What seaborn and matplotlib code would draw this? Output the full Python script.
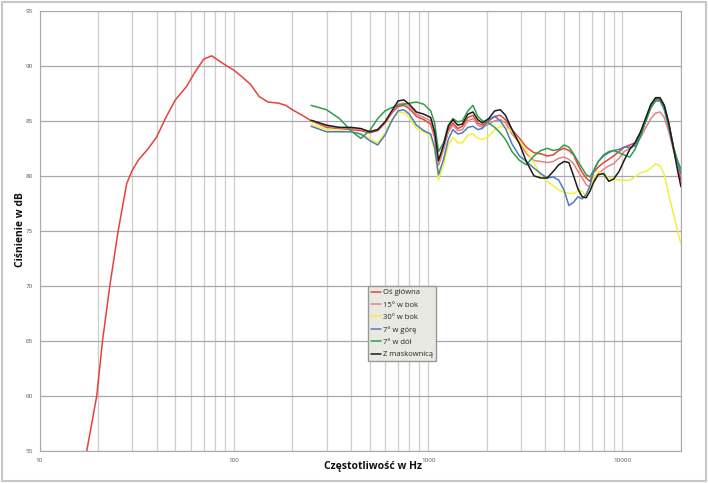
import numpy as np
import pandas as pd
import matplotlib
matplotlib.use("Agg")
import matplotlib.pyplot as plt
from matplotlib.ticker import LogLocator, NullFormatter, FixedLocator
from matplotlib.patches import Rectangle
import seaborn as sns

# ---------------- data ----------------
series_names = ["Oś główna", "15° w bok", "30° w bok", "7° w górę", "7° w dół", "Z maskownicą"]
series_colors = ["#e8413a", "#e08585", "#f2f03c", "#4a7ebb", "#2f9e48", "#1c1c1c"]

freq_low = [17.5, 19.7, 21.1, 23.0, 25.4, 28.1, 30, 32.5, 36, 40, 45, 50, 57, 63, 70, 77, 88,
            100, 110, 122, 135, 150, 170, 185, 200, 225]
spl_low = [55.0, 60.0, 65.0, 70.0, 75.0, 79.3, 80.5, 81.5, 82.4, 83.5, 85.4, 86.9, 88.1, 89.4,
           90.6, 90.9, 90.2, 89.6, 89.0, 88.3, 87.2, 86.7, 86.6, 86.4, 86.0, 85.5]

freq = [250, 300, 350, 400, 450, 500, 550, 600, 650, 700, 750, 800, 870, 950, 1030, 1080, 1130,
        1200, 1270, 1340, 1420, 1500, 1600, 1700, 1800, 1900, 2050, 2200, 2350, 2500, 2700, 2950,
        3200, 3500, 3800, 4100, 4400, 4700, 5000, 5300, 5600, 5900, 6200, 6500, 6800, 7100, 7500,
        8000, 8500, 9000, 9600, 10200, 10900, 11600, 12400, 13200, 14000, 14800, 15600, 16400,
        17300, 18300, 19200, 20000]

spl_main = [85.0, 84.4, 84.3, 84.2, 84.1, 83.9, 84.1, 84.8, 85.7, 86.3, 86.4, 86.1, 85.4, 85.1,
            84.7, 83.5, 81.0, 82.5, 84.2, 84.8, 84.3, 84.5, 85.3, 85.5, 84.8, 84.6, 85.0, 85.4,
            85.5, 85.1, 84.2, 83.4, 82.6, 82.1, 82.0, 81.8, 81.9, 82.3, 82.5, 82.3, 81.9, 81.0,
            80.3, 79.8, 79.5, 80.3, 80.8, 81.2, 81.5, 81.8, 82.2, 82.6, 82.8, 83.0, 84.0, 85.2,
            86.4, 87.0, 87.0, 86.4, 84.8, 82.6, 81.0, 79.6]

spl_15 = [85.0, 84.5, 84.35, 84.3, 84.2, 84.0, 84.2, 84.9, 85.8, 86.5, 86.6, 86.3, 85.6, 85.3,
          85.0, 83.8, 81.0, 82.4, 84.0, 84.6, 84.1, 84.2, 85.0, 85.2, 84.6, 84.4, 84.7, 85.0,
          85.1, 84.8, 83.8, 83.0, 82.0, 81.4, 81.3, 81.2, 81.3, 81.6, 81.7, 81.5, 81.1, 80.4,
          79.8, 79.2, 79.0, 79.6, 80.2, 80.6, 80.9, 81.1, 81.6, 82.2, 82.5, 82.8, 83.5, 84.4,
          85.2, 85.7, 85.8, 85.3, 84.0, 82.3, 81.0, 80.0]

spl_30 = [84.7, 84.2, 84.1, 84.0, 83.8, 83.4, 83.0, 83.9, 85.1, 85.8, 85.7, 85.3, 84.3, 84.0,
          83.6, 82.3, 79.6, 81.0, 82.8, 83.5, 83.0, 83.0, 83.7, 83.8, 83.4, 83.3, 83.6, 84.2,
          84.5, 84.4, 84.0, 83.2, 82.3, 81.2, 80.0, 79.5, 79.1, 78.7, 78.5, 78.4, 78.4, 78.6,
          78.6, 78.1, 79.0, 79.8, 80.4, 80.2, 79.8, 79.7, 79.6, 79.6, 79.6, 79.9, 80.3, 80.4,
          80.7, 81.1, 80.9, 80.1, 78.3, 76.5, 75.0, 73.8]

spl_up = [84.5, 84.0, 84.0, 84.0, 83.8, 83.2, 82.8, 83.7, 85.0, 85.9, 86.0, 85.6, 84.6, 84.1,
          83.8, 82.6, 80.1, 81.5, 83.3, 84.2, 83.8, 83.9, 84.4, 84.5, 84.2, 84.3, 85.1, 85.4,
          85.0, 84.3, 82.9, 81.8, 81.3, 80.7, 80.2, 79.8, 79.9, 79.6, 78.7, 77.3, 77.6, 78.1,
          77.9, 78.3, 79.1, 80.4, 81.3, 81.8, 82.1, 82.3, 82.4, 82.6, 82.6, 82.7, 83.8, 85.0,
          86.2, 86.8, 86.8, 86.0, 84.4, 82.5, 81.2, 80.2]

spl_down = [86.4, 86.0, 85.2, 84.1, 83.4, 84.1, 85.2, 85.9, 86.2, 86.4, 86.5, 86.6, 86.7, 86.5,
            85.9, 84.8, 82.2, 83.0, 84.6, 85.2, 84.9, 85.0, 85.9, 86.4, 85.4, 85.0, 84.8, 84.4,
            83.9, 83.3, 82.2, 81.4, 81.0, 81.8, 82.3, 82.5, 82.3, 82.4, 82.8, 82.6, 82.0, 81.3,
            80.7, 80.1, 79.9, 80.5, 81.3, 81.9, 82.2, 82.3, 82.1, 81.9, 81.7, 82.4, 83.6, 85.0,
            86.2, 86.9, 86.9, 86.3, 84.6, 82.6, 81.4, 80.6]

spl_grill = [85.05, 84.6, 84.4, 84.4, 84.3, 84.0, 84.2, 84.9, 85.9, 86.8, 86.9, 86.5, 85.8, 85.6,
             85.3, 84.0, 81.4, 82.8, 84.5, 85.1, 84.6, 84.7, 85.6, 85.8, 85.1, 84.8, 85.2, 85.9,
             86.0, 85.5, 84.2, 82.9, 81.3, 80.0, 79.8, 79.8, 80.4, 81.0, 81.3, 81.2, 80.0, 78.8,
             78.1, 78.0, 78.6, 79.4, 80.1, 80.2, 79.5, 79.7, 80.4, 81.4, 82.4, 83.0, 84.0, 85.3,
             86.5, 87.1, 87.1, 86.4, 84.8, 82.5, 80.5, 79.0]

y_ticks = [55, 60, 65, 70, 75, 80, 85, 90, 95]
x_ticks = [10, 100, 1000, 10000]
x_tick_labels = ["10", "100", "1000", "10000"]

# ---------------- frame ----------------
rows = []
curves = [
    (freq_low + freq, spl_low + spl_main),
    (freq, spl_15),
    (freq, spl_30),
    (freq, spl_up),
    (freq, spl_down),
    (freq, spl_grill),
]
for name, (f, s) in zip(series_names, curves):
    for fi, si in zip(f, s):
        rows.append({"freq": fi, "spl": si, "series": name})
df = pd.DataFrame(rows)

# ---------------- plot ----------------
sns.set_style("white")
plt.rcParams["font.family"] = ["Open Sans", "DejaVu Sans"]

fig = plt.figure(figsize=(7.08, 4.83), dpi=100)
ax = fig.add_axes([39.5 / 708, 1 - 451 / 483, (681 - 39.5) / 708, (451 - 10.7) / 483])

sns.lineplot(data=df, x="freq", y="spl", hue="series", hue_order=series_names,
             palette=dict(zip(series_names, series_colors)), estimator=None, sort=False,
             linewidth=1.1, ax=ax)

ax.set_xscale("log")
ax.set_xlim(10, 20000)
ax.set_ylim(55, 95)
ax.xaxis.set_major_locator(FixedLocator(x_ticks))
ax.set_xticklabels(x_tick_labels)
ax.xaxis.set_minor_locator(LogLocator(base=10, subs=np.arange(2, 10)))
ax.xaxis.set_minor_formatter(NullFormatter())
ax.set_yticks(y_ticks)

ax.xaxis.grid(True, which="both", color="#cdcdcd", linewidth=0.9)
ax.yaxis.grid(True, which="major", color="#a8a8a8", linewidth=0.9)
ax.set_axisbelow(True)

ax.tick_params(axis="both", which="both", labelsize=4.5, labelcolor="#555555",
               color="#aaaaaa", length=3, width=0.7, direction="out", pad=2)
for sp in ax.spines.values():
    sp.set_color("#aaaaaa")
    sp.set_linewidth(0.8)

ax.set_ylabel("Ciśnienie w dB", fontsize=7.5, fontweight="bold", color="#111111")
ax.set_xlabel("Częstotliwość w Hz", fontsize=7.5, fontweight="bold", color="#111111")
ax.yaxis.set_label_coords((26 - 39.5) / 641.5, (451 - 230) / 440.3)
ax.xaxis.set_label_coords((373 - 39.5) / 641.5, (451 - 461) / 440.3)

handles, labels = ax.get_legend_handles_labels()
ax.legend(handles, labels, loc="upper left", bbox_to_anchor=(368 / 708, 1 - 286 / 483),
          bbox_transform=fig.transFigure, fontsize=5.5, frameon=True, fancybox=False,
          facecolor="#e9e9e3", edgecolor="#999999", framealpha=1, handlelength=1.3,
          handletextpad=0.2, borderpad=0.4, labelspacing=0.65, borderaxespad=0)

fig.patches.append(Rectangle((0.003, 0.004), 0.994, 0.992, transform=fig.transFigure,
                             fill=False, edgecolor="#c8c8c8", linewidth=1.5))

fig.savefig("out.png", dpi=100)
